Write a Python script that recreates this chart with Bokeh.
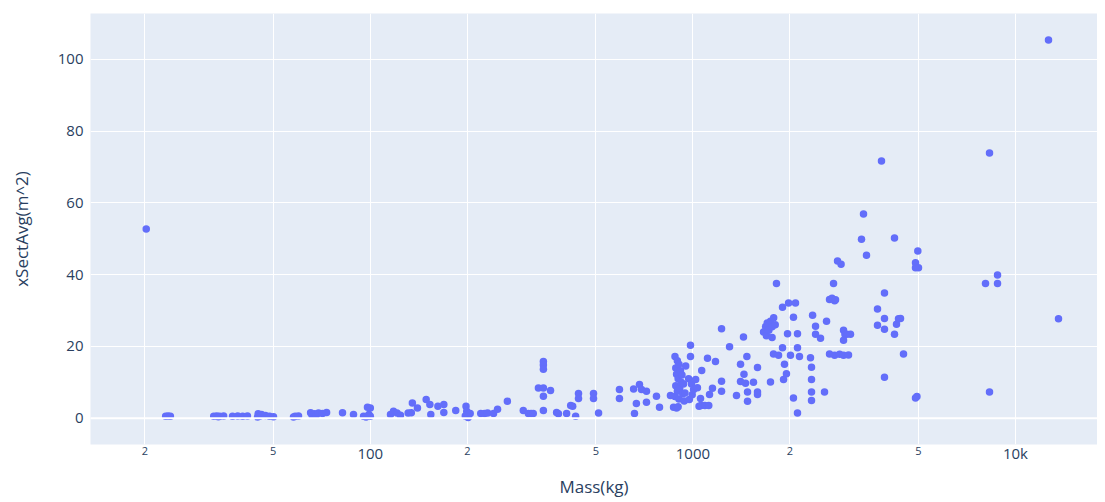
from bokeh.plotting import figure
from bokeh.models import FixedTicker, LogAxis, Span
from bokeh.embed import file_html
from bokeh.resources import INLINE

# ---- data ----
mass_kg = [
    20.2, 23.2, 23.6, 24.0, 32.7, 33.4, 33.8, 34.1, 35.1, 37.4, 38.8, 40.2, 41.6,
    44.7, 44.9, 45.5, 46.0, 47.3, 48.7, 50.1, 57.8, 58.5, 59.9,
    65.3, 66.0, 67.2, 68.0, 69.1, 71.1, 73.2, 82.0, 88.7, 95.3, 97.0, 98.0, 99.0,
    100, 100, 115.5, 118, 121, 124, 131, 134, 135, 140, 149, 153, 154, 162, 169, 169, 184,
    197, 198, 199, 200, 201, 204, 220, 226, 231, 241, 248, 266, 298, 309, 315, 320,
    332, 344, 344, 344, 344, 344, 344, 362, 378, 383, 406, 418,
    424, 433, 442, 442, 492, 492, 510, 592, 592, 655, 659, 668, 683, 693, 718, 718, 771, 788, 852,
    871, 880, 880, 885, 885, 890, 890, 895, 895, 900, 900, 905, 905, 910, 915, 920, 925, 930, 935, 940, 945, 950,
    970, 975, 983, 983, 990, 995, 1005, 1020, 1033, 1045, 1056, 1060, 1065, 1090, 1110, 1120, 1126, 1150, 1175, 1227, 1227, 1227,
    1299, 1365, 1405, 1405, 1435, 1440, 1456, 1470, 1477, 1477, 1541, 1586, 1586, 1586,
    1656, 1680, 1690, 1700, 1720, 1740, 1740, 1760, 1760, 1778, 1780, 1800, 1816, 1843,
    1896, 1896, 1910, 1923, 1950, 1965, 1980, 2007, 2050, 2050, 2080, 2110, 2110, 2110, 2140,
    2315, 2332, 2332, 2332, 2332, 2350, 2400, 2400, 2487, 2559, 2596, 2652, 2700, 2729, 2750, 2768, 2808, 2880,
    2652, 2750, 2850, 2931, 3037, 2931, 2960, 3000, 3080, 2931,
    3332, 3380, 3453, 3735, 3735, 3843, 3926, 3926, 3926, 3926, 4217, 4217, 4278, 4339, 4402, 4497,
    4899, 4950, 4980, 4899, 4899, 5005, 8075, 8309, 8309, 8798, 8798, 12660, 13596,
]
xsect_avg = [
    52.7, 0.5, 0.6, 0.5, 0.5, 0.6, 0.4, 0.5, 0.6, 0.5, 0.6, 0.5, 0.6,
    0.3, 1.2, 0.6, 1.0, 0.7, 0.5, 0.4, 0.3, 0.5, 0.6,
    1.5, 0.8, 1.2, 0.9, 1.4, 1.3, 1.6, 1.5, 1.0, 0.5, 0.3, 3.0, 1.0,
    2.8, 0.5, 1.0, 1.9, 1.4, 0.8, 1.4, 1.5, 4.2, 2.8, 5.2, 3.8, 1.0, 3.3, 3.8, 1.6, 2.1,
    0.6, 3.3, 1.9, 1.0, 0.2, 1.3, 1.3, 1.3, 1.4, 1.3, 2.5, 4.7, 2.1, 1.3, 1.3, 1.3,
    8.4, 8.4, 15.8, 14.8, 13.6, 6.1, 2.1, 7.7, 1.6, 1.2, 1.3, 3.5,
    3.3, 0.5, 6.9, 5.5, 6.9, 5.5, 1.4, 8.0, 5.5, 8.1, 1.3, 4.1, 9.4, 8.0, 7.5, 4.4, 6.1, 3.0, 6.3,
    3.0, 17.2, 6.0, 14.0, 9.0, 12.2, 2.8, 16.0, 7.5, 11.0, 3.2, 15.0, 5.3, 8.3, 13.2, 10.0, 12.0, 6.8, 9.5, 4.8, 7.0, 14.5,
    11.0, 5.2, 20.3, 17.2, 9.5, 6.5, 8.0, 10.8, 8.5, 3.3, 5.5, 3.5, 13.3, 3.5, 16.7, 3.5, 6.6, 8.3, 15.8, 24.9, 10.3, 7.5,
    19.9, 6.3, 15.0, 10.2, 22.6, 12.2, 9.7, 17.2, 7.3, 4.7, 10.0, 14.1, 7.3, 6.6,
    24.0, 25.5, 23.0, 26.5, 24.5, 27.0, 10.1, 25.5, 22.5, 17.9, 28.0, 26.0, 37.5, 17.5,
    30.9, 19.6, 10.8, 15.0, 12.4, 23.5, 32.1, 17.5, 28.1, 5.6, 32.1, 23.5, 19.6, 1.4, 17.2,
    16.8, 14.2, 10.8, 7.3, 4.9, 28.7, 25.6, 23.4, 22.3, 7.3, 27.0, 33.1, 33.4, 37.5, 32.7, 33.0, 43.8, 42.9,
    17.9, 17.5, 17.8, 17.5, 17.6, 24.5, 23.4, 23.4, 23.4, 21.7,
    49.9, 56.9, 45.4, 30.4, 25.9, 71.7, 34.9, 27.8, 24.8, 11.4, 50.2, 23.4, 26.2, 27.7, 27.8, 17.9,
    5.6, 6.0, 46.6, 43.3, 41.9, 41.9, 37.5, 73.9, 7.3, 37.5, 39.9, 105.4, 27.7,
]
assert len(mass_kg) == len(xsect_avg)

major_ticks = [100, 1000, 10000]
major_labels = ["100", "1000", "10k"]
minor_ticks = [20, 50, 200, 500, 2000, 5000]
minor_labels = ["2", "5", "2", "5", "2", "5"]
y_ticks = [0, 20, 40, 60, 80, 100]

X_START, X_END = 13.57, 17960
Y_START, Y_END = -7.35, 112.8

FONT = "Open Sans"
TXT = "#2a3f5f"

p = figure(
    width=1097, height=500,
    x_axis_type="log",
    x_range=(X_START, X_END), y_range=(Y_START, Y_END),
    output_backend="svg", toolbar_location=None,
    min_border_left=90, min_border_right=0, min_border_top=13, min_border_bottom=56,
    background_fill_color="#E5ECF6", border_fill_color="white",
    outline_line_color=None,
)

# grid
p.xgrid.ticker = FixedTicker(ticks=sorted(minor_ticks + major_ticks))
p.ygrid.ticker = FixedTicker(ticks=y_ticks)
for g in (p.xgrid, p.ygrid):
    g.grid_line_color = "white"
    g.grid_line_width = 1
p.add_layout(Span(location=0, dimension="width", line_color="white", line_width=2))

# minor x labels (closest to the frame, small)
ax_minor = p.xaxis[0]
ax_minor.ticker = FixedTicker(ticks=minor_ticks)
ax_minor.major_label_overrides = dict(zip(minor_ticks, minor_labels))
ax_minor.major_label_text_font = FONT
ax_minor.major_label_text_font_size = "11px"
ax_minor.major_label_text_color = TXT
ax_minor.major_label_standoff = 2

# major x labels + title (pulled back up onto the same row)
ax_major = LogAxis(ticker=FixedTicker(ticks=major_ticks))
ax_major.major_label_overrides = dict(zip(major_ticks, major_labels))
ax_major.major_label_text_font = FONT
ax_major.major_label_text_font_size = "15px"
ax_major.major_label_text_color = TXT
ax_major.major_label_standoff = -15
ax_major.axis_label = "Mass(kg)"
ax_major.axis_label_text_font = FONT
ax_major.axis_label_text_font_size = "17px"
ax_major.axis_label_text_font_style = "normal"
ax_major.axis_label_text_color = TXT
ax_major.axis_label_standoff = 9
p.add_layout(ax_major, "below")

for ax in (ax_minor, ax_major, p.yaxis[0]):
    ax.axis_line_color = None
    ax.major_tick_line_color = None
    ax.minor_tick_line_color = None
    ax.major_tick_out = 0
    ax.minor_tick_out = 0
    ax.major_tick_in = 0
    ax.minor_tick_in = 0

yax = p.yaxis[0]
yax.ticker = FixedTicker(ticks=y_ticks)
yax.major_label_text_font = FONT
yax.major_label_text_font_size = "15px"
yax.major_label_text_color = TXT
yax.major_label_standoff = 7
yax.axis_label = "xSectAvg(m^2)"
yax.axis_label_text_font = FONT
yax.axis_label_text_font_size = "17px"
yax.axis_label_text_font_style = "normal"
yax.axis_label_text_color = TXT
yax.axis_label_standoff = 22

p.scatter(mass_kg, xsect_avg, size=7.5, fill_color="#636efa", line_color=None)

open("out.html", "w").write(file_html(p, INLINE))
